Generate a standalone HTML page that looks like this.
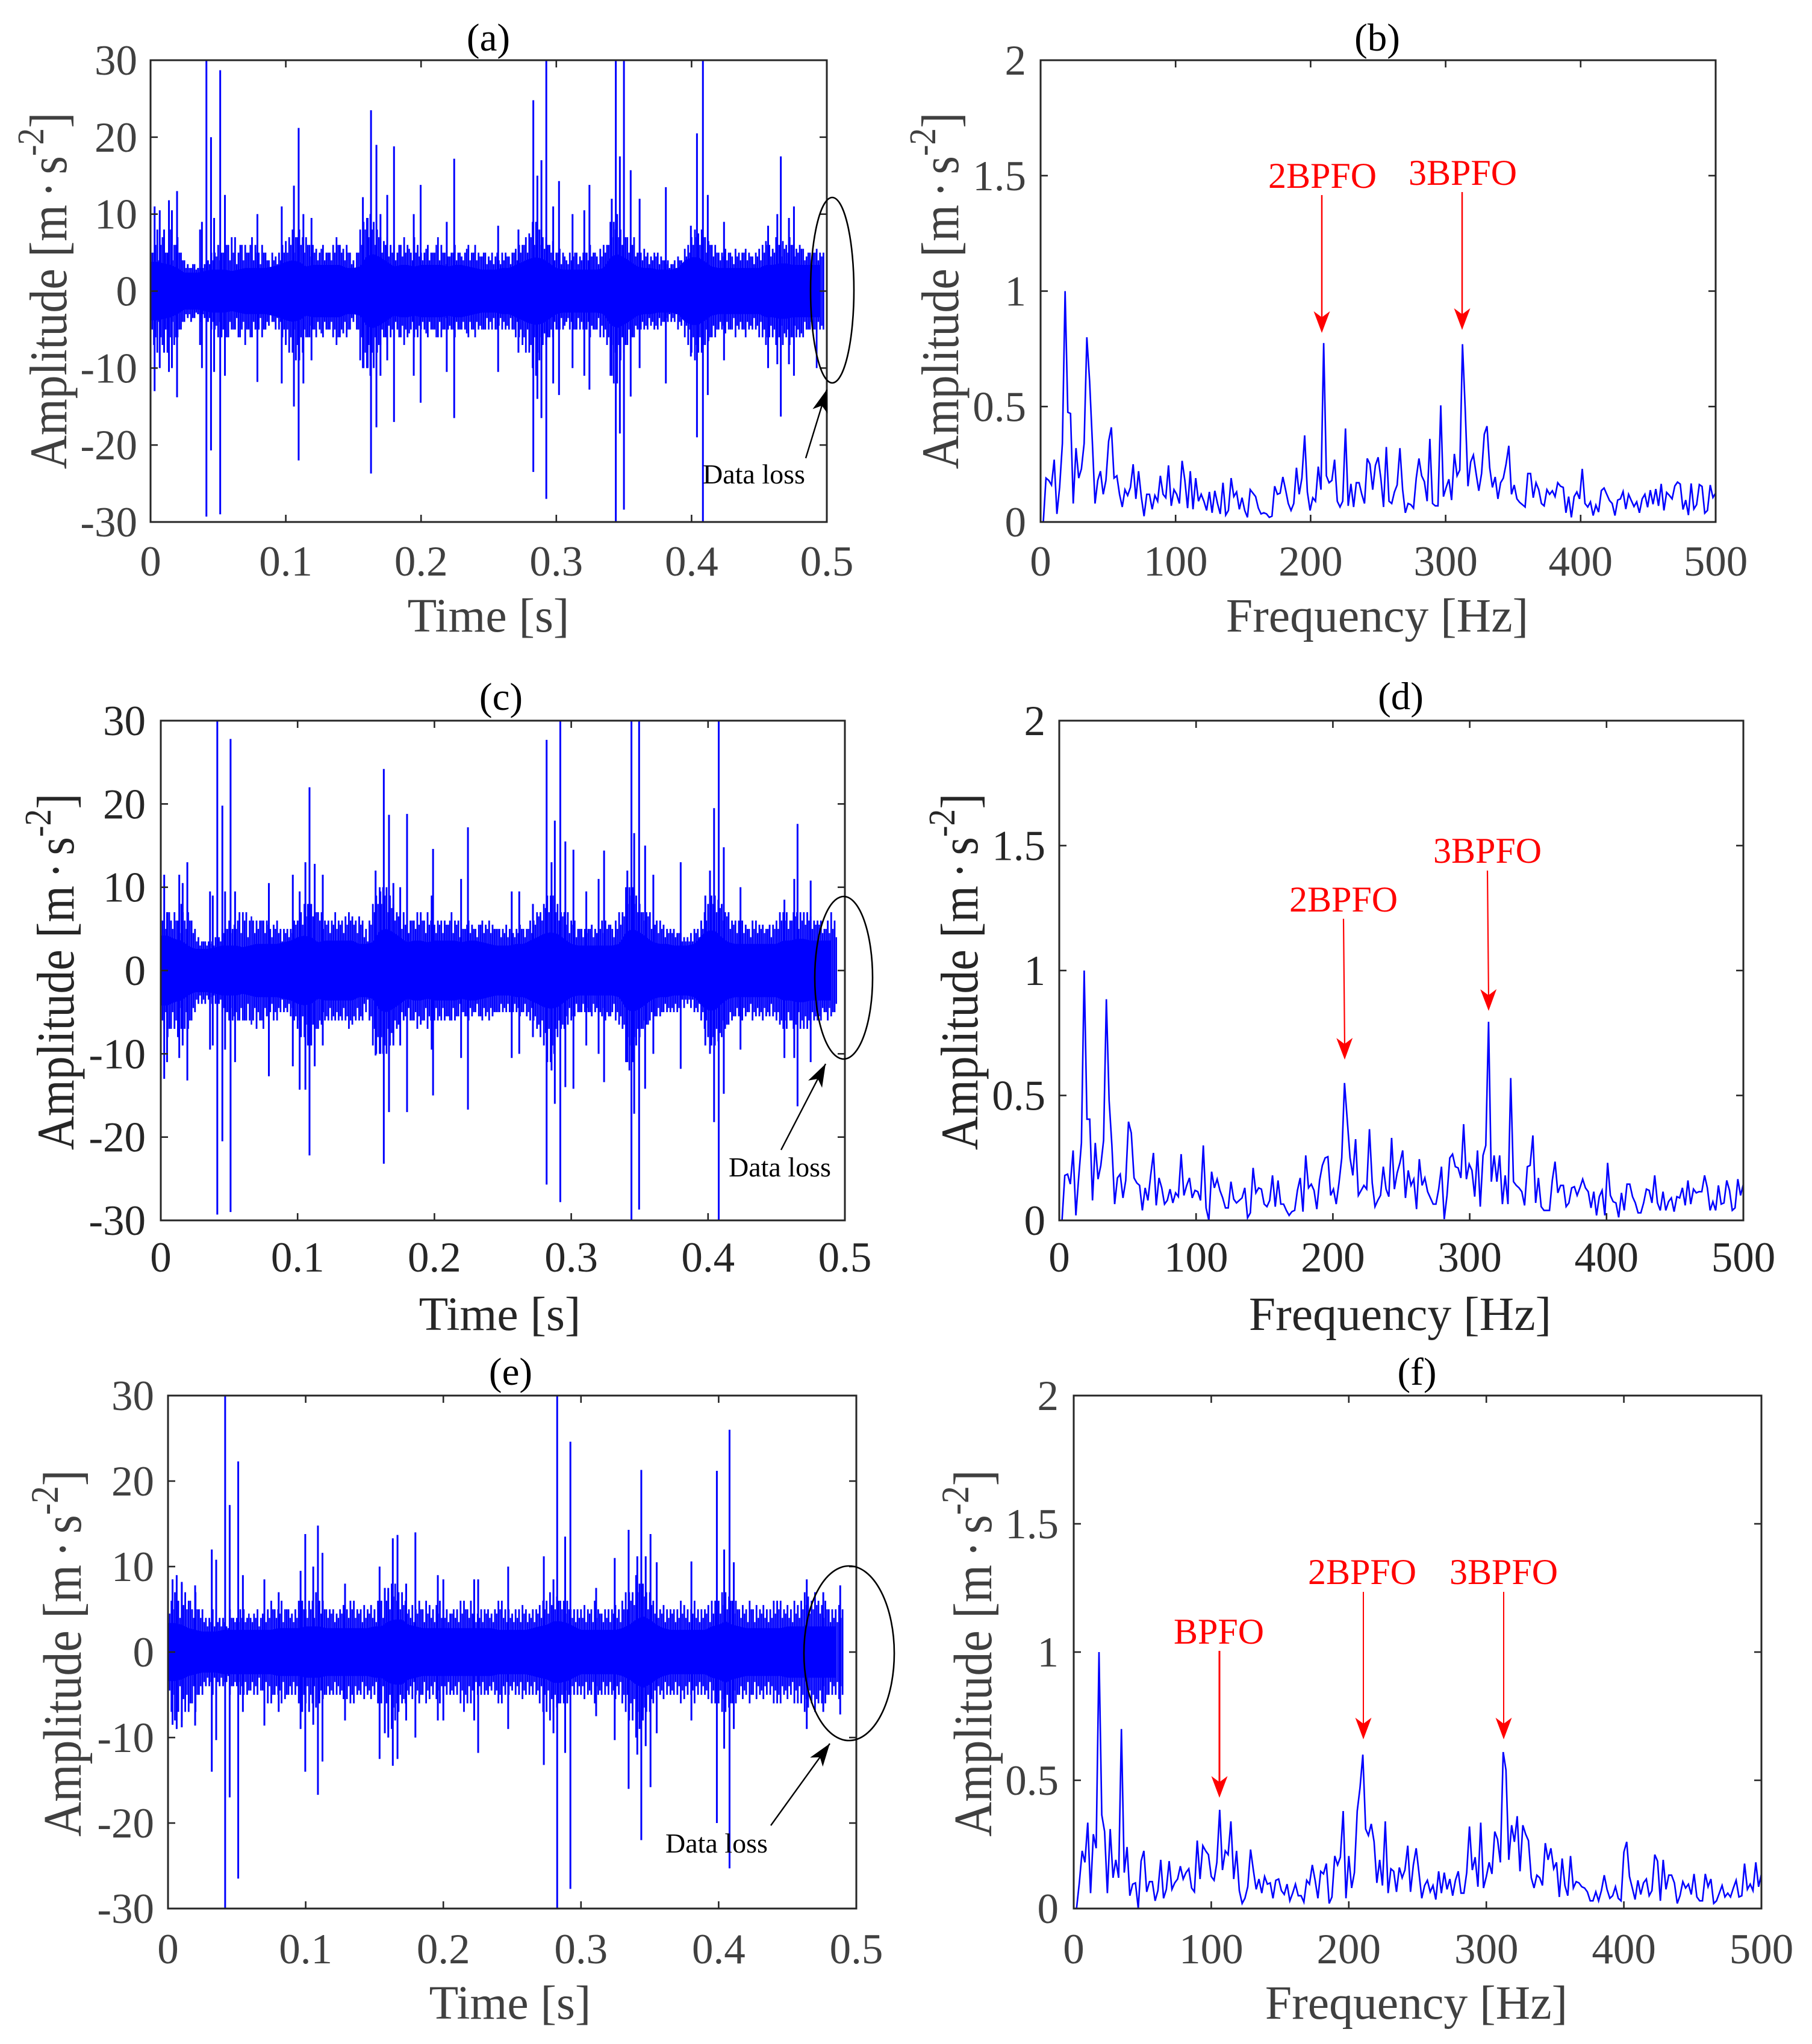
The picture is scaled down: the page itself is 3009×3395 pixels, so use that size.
<!DOCTYPE html>
<html lang="en">
<head>
<meta charset="utf-8">
<title>Vibration signals and envelope spectra</title>
<style>
html,body{margin:0;padding:0;background:#fff;}
svg{display:block;}
text{font-family:"Liberation Serif",serif;}
</style>
</head>
<body>
<svg id="figure" xmlns="http://www.w3.org/2000/svg" width="3009" height="3395" viewBox="0 0 3009 3395"></svg>
<script>
/* ---------- tick labels ---------- */
const timeTicks = [0, 0.1, 0.2, 0.3, 0.4, 0.5];
const ampTicks = [-30, -20, -10, 0, 10, 20, 30];
const freqTicks = [0, 100, 200, 300, 400, 500];
const specTicks = [0, 0.5, 1, 1.5, 2];
const freqMax = 500;
const coreStep = 0.005;
const fringeStep = 0.0025;

/* ---------- panel (a) ---------- */
const spikeTimesA = [.003,.0068,.01,.0136,.0158,.0196,.0366,.038,.0413,.0447,.047,.0515,.055,.079,.097,.106,.1095,.113,.119,.157,.1605,.163,.167,.17,.175,.18,.1946,.1997,.219,.2245,.257,.272,.283,.286,.289,.2926,.2977,.302,.312,.3207,.3245,.341,.344,.347,.35,.355,.3616,.381,.3995,.404,.4084,.412,.424,.4566,.4634,.466,.472,.4757];
const spikeHighA = [11,10.5,8,11.8,10.5,13,8,9,30,20,9.5,28.7,12.5,10,11,13.7,21.2,10,9.5,12.2,9.5,23.5,19,10,12.5,18.8,10,13.8,9,17.2,8.5,8,24.8,15,17,30,11,14.3,10,10.5,13.8,12,30,17.5,30,15.7,12,13.5,8.5,20.5,30,12.5,9,8.5,10,17.5,9.5,11];
const spikeLowA = [-13,-10,-8,-10.5,-10,-13.8,-7,-10,-29.3,-20.7,-10.5,-29,-11,-11.8,-12,-15,-22,-12,-9,-10,-10,-23.7,-17.7,-11,-9,-17,-11,-14.5,-10.5,-16.5,-10.5,-8,-23.5,-14,-16.5,-27,-12,-13.5,-10,-11,-12.8,-11,-30,-18.5,-28.4,-13.7,-10,-12,-8.5,-19,-30,-13.5,-9,-10,-9.5,-16.3,-9.5,-11];
const coreA = [3.8,3.8,3.6,3.4,3,2.4,2.4,2.4,2.6,2.8,2.8,2.8,2.6,2.8,3,3,3,3,3.2,3.4,3.8,4,3.8,3.2,3.4,3.4,3.4,3.4,3.4,3,3,3.2,4.6,4.8,4.4,3.8,3.2,3.4,3.4,3.2,3.4,3.4,3.4,3.4,3.2,3.4,3.4,3.2,3,2.8,2.8,2.8,3,3,3.4,3.8,4.2,4.4,4.2,3.6,3,2.8,2.8,2.8,2.8,2.8,2.8,3,4.4,4.8,4.4,3.8,3.2,3,3,2.8,2.8,2.8,3,4,4.4,4.4,3.8,3.2,3,3,3,3,3,3,3,3.4,3.4,3.6,3.6,3.4,3.4,3.4,3.4,3.4];
const fringeHighA = [6,5,8,6,7,5,8,6,7,5,4,3.5,3,3.5,3,3,3.5,4,5,5,
6,5,4,6,7,7,5,6,6,5,7,6,5,6,5,4,5,4.5,5,6,
6.5,7,8,7,8,7,7,6,6,5.5,5,6,5,5,6,7,6,5.5,6,5,
4,5,8,9,9.5,10,9,8,7,6.5,7,6,6,5,6,7,6,5,7,6,
5,5,6,5,5,7,6,5,4.5,5,6,5,4.5,5,6,5,6,5,4.5,5,
4.5,5,4.5,4,5,5,4.5,5,5.5,6,6,7,7.5,9,9,8,7,7,6,6.5,
5,5.5,5,4,5,4.5,5,4.5,5,5,6,5,4.5,5.5,6,6,9,9,10,8,
8,7,6,7,5,5,5.5,5,4.5,5,5,4.5,4,4,3.5,4,4.5,4,5.5,6,
7,8,7.5,8,7,6.5,6,6,5,5,5.5,5,4.5,5.5,5,5,5.5,5,4.5,5,
5.5,6,6.5,6,5.5,7,6,6.5,6,7,6,5.5,6,5.5,4.5,5,5,5.5,5,5];
const fringeLowA = [-6,-7,-8,-6,-7,-8,-6,-7,-6,-5,-4,-3.5,-4,-3.5,-3,-4,-3.5,-4,-5,-5,
-6,-6,-5,-6,-5,-5,-6,-5,-7,-5,-6,-5,-5,-6,-5,-4.5,-4,-5,-5,-6,
-7,-8,-8,-9,-9,-8,-6,-6,-5,-6,-5,-6,-5,-5,-6,-7,-6,-5.5,-6,-5,
-4,-5,-9,-10,-10,-11,-10,-8,-7,-6,-7,-6,-6,-5,-6,-7,-6,-5,-6,-6,
-5,-5,-6,-5,-5,-6,-6,-5,-5,-5,-6,-5,-5,-5,-6,-5,-6,-5,-5,-5,
-5,-5,-5,-4.5,-5,-5,-5,-5,-6,-6,-7,-8,-8,-10,-11,-9,-7,-7,-6,-6,
-5,-5,-5,-4,-5,-5,-5,-5,-5,-5,-6,-5,-5,-6,-6,-7,-11,-12,-12,-9,
-8,-7,-6,-6,-5,-5,-5,-5,-4.5,-5,-5,-4.5,-4,-4,-4,-4,-5,-4.5,-6,-7,
-8,-9,-8,-8,-7,-6.5,-6,-6,-5,-5,-5.5,-5,-5,-6,-5,-5,-6,-5,-5,-5,
-6,-6,-7,-6,-6,-7,-6,-7,-6,-7,-6,-6,-6,-6,-5,-5,-5,-10,-5,-5];
const midA = [5,6,4,7,5,6,4,6,5,4,3,3,3.5,2.8,3,3,2.8,3.5,4,4.5,
4,5,6,4,5,3.5,6,4,5,6,4,5,3.5,5,4,3,4,3.5,4,5,
5,6,5,7,6,5,6,4.5,5,4,5.5,4,5,4,5,6,5,4,5,3.5,
3,5,6,8,7,8,6,7,5,6,4.5,5,4,6,4.5,5,5.5,4,5,4.5,
4,5.5,4,5,6,4,5,3.5,4.5,5,4,5,4,5.5,4,5,4,4.5,5,3.5,
4,3.5,5,3.5,4,4.5,3.5,5,4,5,6,5,7,6,8,6,5.5,6,5,4,
5,3.5,4.5,3.5,4,5,3.5,4,5,4,4.5,5,3.5,4.5,5,6,7,8,7,6,
7,5,6,4.5,5,4,4.5,3.5,4,4.5,3.5,4,3.5,3,3.5,3,4,3.5,4.5,5,
6,7,6,7,5,6,4.5,5,4,4.5,4,5,3.5,4.5,4,5,4,4.5,3.5,4.5,
4,5,6,4.5,5,6,4.5,5.5,5,6,4.5,5,5.5,4,5,4,5,4,4.5];

/* ---------- panel (b) ---------- */
const spectrumB = [0,.19,.18,.16,.27,.035,.15,.34,1,.475,.47,.08,.32,.19,.23,.34,.80,.61,.35,.08,.18,.22,.12,.18,.35,.41,.19,.2,.12,.065,.14,.115,.15,.25,.10,.22,.11,.025,.12,.12,.055,.115,.09,.2,.12,.105,.245,.07,.14,.12,.08,.265,.18,.06,.22,.055,.19,.09,.12,.09,.05,.13,.04,.135,.08,.035,.17,.03,.05,.19,.11,.13,.055,.105,.05,.02,.14,.125,.11,.06,.035,.04,.035,.02,.025,.155,.12,.125,.195,.14,.08,.05,.08,.235,.12,.19,.375,.13,.05,.105,.09,.24,.14,.775,.2,.17,.18,.27,.09,.065,.09,.405,.07,.165,.065,.17,.17,.12,.08,.275,.25,.14,.245,.28,.19,.065,.325,
.09,.08,.13,.16,.32,.14,.04,.08,.075,.06,.19,.275,.2,.175,.09,.36,.08,.07,.07,.505,.11,.15,.185,.095,.295,.2,.225,.77,.49,.155,.26,.29,.21,.135,.21,.38,.415,.235,.15,.195,.10,.17,.19,.25,.33,.12,.16,.10,.085,.075,.065,.21,.21,.105,.17,.14,.08,.07,.14,.12,.135,.11,.17,.155,.15,.04,.11,.02,.11,.13,.10,.23,.08,.065,.087,.028,.073,.043,.136,.147,.12,.093,.08,.028,.095,.1,.132,.056,.12,.093,.067,.087,.04,.1,.12,.064,.138,.077,.143,.07,.165,.05,.128,.115,.1,.156,.173,.164,.054,.095,.03,.167,.056,.075,.162,.154,.038,.05,.16,.106,.125];

/* ---------- panel (c) ---------- */
const spikeTimesC = [.0025,.0046,.0135,.016,.0194,.036,.038,.0413,.045,.047,.051,.0543,.079,.0965,.1015,.1057,.1087,.1125,.1184,.157,.1605,.163,.1668,.17,.175,.18,.198,.199,.2195,.2245,.2565,.262,.272,.282,.2856,.288,.292,.2957,.3016,.311,.32,.324,.341,.344,.346,.3496,.354,.36,.38,.398,.4014,.4044,.4078,.4115,.4237,.4558,.463,.4654,.475];
const spikeHighC = [11.5,7,11.5,10.5,13,9.5,9,30,19.8,9.5,27.8,9.5,10.5,11.5,9.5,13,22,12.8,11.5,12,9.5,24.2,18.7,10.5,10,18.8,9,14.6,11,17.2,9.5,9.5,8,27.7,13,18,30,15.5,14.5,9.5,11,14.4,12,30,16.5,30,15,11.5,13,9,12,19.5,30,14.8,10,8.5,11,17.6,10.8];
const spikeLowC = [-13,-11,-10.5,-9,-13.2,-9.5,-9,-29.3,-20.5,-9.5,-29,-11,-12.7,-11.5,-14.3,-14.3,-22.2,-11.5,-9,-10.2,-10,-23.2,-17,-9,-9,-17,-9.5,-15,-10.5,-16.7,-10.5,-10,-8,-25.7,-12,-16,-27.8,-14,-14.2,-9,-10,-13.4,-11,-30,-17.2,-28.7,-14.2,-10,-11.8,-9,-10,-18.2,-30,-14.8,-9.5,-10.5,-10.5,-16.3,-11];
const coreC = [4.2,4.2,3.8,3.6,3,2.6,2.6,2.6,2.8,3,3,3,2.8,3,3.2,3.2,3.2,3.2,3.4,3.6,4,4.2,4,3.4,3.6,3.6,3.6,3.6,3.6,3.2,3.2,3.4,4.8,5,4.6,4,3.4,3.6,3.6,3.4,3.6,3.6,3.6,3.6,3.4,3.6,3.6,3.4,3.2,3,3,3,3.2,3.2,3.6,4,4.4,4.6,4.4,3.8,3.2,3,3,3,3,3,3,3.2,4.6,5,4.6,4,3.4,3.2,3.2,3,3,3,3.2,4.2,4.8,4.8,4,3.4,3.2,3.2,3.2,3.2,3.2,3.2,3.2,3.6,3.6,3.8,3.8,3.6,3.6,3.6,3.6];
const fringeHighC = [5,6,7,6,7,6,8,6,7,6,5,4,3.5,3.5,3.5,3.5,4,4,5,5,
6,5,5,7,7,7,6,6,6,6,6,6,5,5.5,6,5,5,5,5,6,
6,7,8,8,8,8,7,7,6,6,6,7,6,6,6.5,7,6.5,6,6.5,6,
5,6,8,9,10,10,10,9,8,7,7,7,6,6,6,7,7,6,7,6,
5.5,6,6,6,5.5,7,6,6,5,5,6,5.5,5,5.5,6,5.5,6,5.5,5,5,
5,5.5,5,4.5,5,5.5,5,5,6,6,7,7,8,9,9,9,8,7,7,7,
6,6,5,5,5,5,5.5,5,5.5,6,6,5.5,5,6,7,7,10,10,10,9,
8,7,7,7,6,6,6,5.5,5,5,5,4.5,4.5,4,4,4.5,5,5,6,7,
8,9,9,8.5,8,7,7,6,6,6,6,5.5,5,6,6,5.5,5.5,5,5.5,5.5,
6,7,7,7,6,7,7,7,7,7,6.5,6,6,6,5,6,7,6];
const fringeLowC = [-6,-7,-8,-7,-7,-8,-7,-7,-7,-6,-5,-4,-4,-4,-3.5,-4,-4,-4,-5,-5,
-6,-6,-5,-6,-6,-6,-6,-6,-7,-6,-7,-5.5,-5,-6,-6,-5,-5,-5,-5.5,-6,
-7,-8,-8,-9,-9,-8,-7,-6.5,-6,-6,-6,-6,-6,-6,-6,-7,-6.5,-6,-6,-6,
-5,-6,-9,-10,-10,-10,-10,-9,-8,-7,-7,-6,-6,-6,-6,-7,-6.5,-6,-7,-6,
-6,-6,-6,-6,-5.5,-6,-6,-5.5,-5,-5.5,-6,-5.5,-5,-5.5,-6,-5.5,-6,-5.5,-5,-5,
-5,-5,-5,-5,-5,-5.5,-5,-5.5,-6,-6,-7,-8,-9,-11,-11,-10,-8,-7,-7,-6.5,
-6,-5.5,-5,-5,-5,-5,-5.5,-5,-5.5,-5.5,-6,-5.5,-5,-6,-6.5,-7,-11,-12,-11,-9,
-8,-7,-6.5,-6,-6,-5.5,-5.5,-5,-5,-5,-5,-5,-4.5,-4.5,-4,-4.5,-5,-5,-6,-7,
-8,-9,-9,-8.5,-8,-7,-6.5,-6,-5.5,-5.5,-6,-5.5,-5,-6,-5.5,-5.5,-6,-5.5,-5.5,-5.5,
-6,-6.5,-7,-7,-6,-7,-6.5,-7,-7,-7,-6.5,-6,-6,-6,-5,-6,-5.5,-5];
const midC = [6,5,7,5,6,4.5,7,5,6,4.5,3.5,3,3.5,3,3.2,3,3.5,3.5,4.5,5,
4.5,5.5,6,4.5,6,4,6.5,4.5,5,6,4.5,5.5,4,5,4.5,3.5,4.5,4,4.5,5.5,
6,5.5,6.5,7.5,6.5,7,6,5,5.5,4.5,5.5,5,5.5,4.5,5.5,6,5.5,4.5,5.5,4,
3.5,5.5,7,8,8,9,7,7.5,6,6.5,5,5.5,4.5,6,5,5.5,6,4.5,5.5,5,
4.5,5.5,4.5,5.5,6,4.5,5.5,4,5,5.5,4.5,5,4,5.5,4.5,5,4.5,5,5,4,
4.5,4,5,4,4.5,5,4,5,4.5,5.5,6.5,6,7.5,7,9,7,6,6.5,5.5,4.5,
5.5,4,5,4,4.5,5,4,4.5,5,4.5,5,5.5,4,5,5.5,6.5,8,9,8,7,
7,6,6.5,5,5.5,4.5,5,4,4.5,4.5,4,4.5,3.5,3.5,3.5,3.5,4.5,4,5,6,
7,8,7,7.5,6,6.5,5,5.5,4.5,5,4.5,5,4,5,4.5,5,4.5,5,4,5,
5,6,6,5,6,6.5,5,6,5.5,6,5,5.5,5.5,4.5,5,4.5,5,4];

/* ---------- panel (d) ---------- */
const spectrumD = [0,.18,.185,.145,.28,.02,.17,.31,1,.405,.405,.08,.31,.165,.22,.32,.885,.48,.3,.065,.17,.185,.09,.16,.395,.35,.17,.15,.14,.04,.13,.08,.18,.27,.06,.17,.13,.065,.08,.125,.07,.11,.095,.265,.10,.14,.17,.09,.12,.115,.08,.30,.05,0,.195,.13,.165,.12,.09,.05,.05,.155,.085,.07,.08,.09,.13,.01,.03,.21,.11,.13,.125,.065,.055,.08,.18,.055,.16,.065,.065,.04,.02,.035,.04,.12,.17,.035,.26,.13,.145,.12,.045,.16,.22,.25,.255,.10,.125,.065,.15,.25,.55,.40,.25,.18,.325,.10,.12,.14,.125,.365,.15,.055,.08,.10,.215,.125,.095,.33,.125,.19,.23,.28,
.09,.2,.14,.165,.045,.245,.14,.17,.115,.09,.065,.065,.125,.215,.005,.10,.25,.265,.215,.21,.17,.385,.165,.225,.20,.095,.28,.055,.26,.30,.795,.155,.26,.155,.26,.065,.18,.065,.57,.155,.14,.13,.115,.06,.215,.22,.34,.07,.17,.055,.04,.04,.04,.16,.235,.11,.14,.14,.055,.07,.13,.135,.10,.13,.165,.13,.115,.05,.115,.02,.095,.12,.02,.23,.10,.075,.07,.012,.11,.04,.145,.145,.095,.07,.03,.03,.07,.125,.12,.07,.18,.07,.04,.115,.04,.075,.09,.035,.095,.09,.13,.06,.16,.065,.125,.11,.115,.115,.18,.13,.04,.075,.04,.14,.065,.07,.16,.12,.04,.05,.165,.10,.145];

/* ---------- panel (e) ---------- */
const spikeTimesE = [.0033,.0063,.01,.0197,.0318,.035,.0415,.0448,.051,.0544,.07,.0804,.0963,.0997,.1055,.1089,.1122,.1286,.1537,.1575,.16,.1633,.1667,.173,.1797,.196,.2,.2224,.2253,.2471,.273,.28,.2827,.2885,.2923,.311,.3245,.3346,.3409,.3438,.347,.3505,.355,.3802,.3987,.404,.4079,.411,.464,.476,.4883];
const spikeHighE = [8.5,9,8.2,7.8,12,10.8,30,17.2,22.3,9,8.5,7,9.5,13.8,10,14.8,11.6,8,10,7.5,7.5,13.3,13.7,8,14,9,8.5,8.5,8.5,10,11.2,8.5,30,13.5,24.6,7.5,11,14.3,11.2,21.3,11.2,13.8,10.5,10.6,21.2,12,26,10.5,8.5,7,7.8];
const spikeLowE = [-8.5,-9,-8.8,-8.6,-14,-10.3,-30,-17,-26.5,-7,-8.6,-7,-9,-14,-8.5,-16.7,-12.8,-8,-12.5,-9.5,-10,-13.3,-12.5,-8,-10,-8,-8,-8,-11.8,-9,-13.2,-9.5,-30,-11.8,-27.7,-7.5,-10.3,-16,-12,-22,-11,-15.8,-9.5,-8,-20,-11.3,-25.3,-9,-9,-7,-7.3];
const coreE = [3.4,3.4,3.2,2.8,2.6,2.4,2.4,2.4,2.6,2.6,2.6,2.6,2.6,2.6,2.6,2.6,2.8,2.8,2.8,2.8,3,3,3,2.8,2.8,2.8,2.8,2.8,2.8,2.8,3,3,3.6,3.8,3.8,3.2,3,2.8,2.8,2.8,2.8,2.8,2.8,2.8,2.8,2.8,2.8,2.8,2.6,2.6,2.6,2.6,2.6,2.8,3,3.2,3.6,3.6,3.4,3,2.6,2.6,2.6,2.6,2.6,2.6,2.8,3.2,3.8,4.2,3.8,3.2,2.8,2.6,2.6,2.6,2.6,2.6,2.6,3,3.2,3.6,3.2,3,2.8,2.8,2.8,2.8,2.8,2.8,3,3,3,3,3,3,3,3];
const fringeHighE = [5,6,7,6,8,7,6,5,7,5,5,4,4,5,4,4,4,3,5,4,
4,5,5,4,4,4.5,5,4,4.5,5,6,5,5,6,5,5,4.5,5,6,6,
5,6,6,7,6,6,5,5,5,4.5,5,5.5,5,6,6,5,5,5.5,5,5.5,
5,6,6,7,7,8,8,7,7,6,5,5.5,5,6,5,6,5.5,5,5.5,6,
5,5,4.5,5,5,6,6,5,6,5,4.5,5,5,5,4.5,5,6,6,5,5,
4.5,5,5,5.5,5,4.5,5,5,5.5,6,6,7,7,6.5,6,6,6,5,5,5,
5,5.5,5,5,6,5,4.5,5,5,5,5.5,5,6,7,7,7,9,8,8,7,
7,6,5,5,5.5,5,5,5,5,6,5.5,5,5,6,5,5,5,5.5,6,6,
6,7,7,6.5,6,6,5,5.5,5,6,5,5.5,5,5.5,5,5,6,6,6,5,
5.5,5,6,5.5,6,7,6.5,6,7,6,5.5,6,5,5,5,5.5,5];
const fringeLowE = [-6,-7,-8,-7,-8,-7,-7,-6,-7,-5,-5,-4,-4,-5,-4,-4,-4,-3.5,-5,-4,
-4,-5,-5,-5,-4.5,-5,-5,-4.5,-5,-6,-6,-5,-5,-6,-5.5,-5,-5,-5,-6,-7,
-6,-7,-6,-6.5,-6,-5.5,-5,-5,-5,-5,-5,-5.5,-5.5,-6,-6,-5,-5,-5.5,-5,-5.5,
-5,-6,-6,-8,-9,-9,-8,-7,-6,-6,-5,-5.5,-5,-6,-5,-6,-5.5,-5,-5.5,-6,
-5,-5,-5,-5,-5,-6,-7,-6,-6,-5,-5,-5,-5,-5,-4.5,-5,-6,-6,-5,-5,
-4.5,-5,-5,-5.5,-5,-5,-5,-5,-6,-7,-7,-8,-7,-6.5,-6,-6,-6,-5,-5,-5,
-5,-5.5,-5,-5,-6,-5,-5,-5,-5,-5,-5.5,-5,-6,-7,-8,-8,-10,-9,-8,-7,
-7,-6,-5.5,-5,-5.5,-5,-5,-5,-5,-6,-5.5,-5,-5,-6,-5,-5,-5,-5.5,-6,-6,
-6,-7,-7,-6.5,-6,-6,-5,-5.5,-5,-6,-5,-5.5,-5,-5.5,-5,-5,-6,-6,-6,-5,
-5.5,-5,-6,-6,-6,-7,-6.5,-6,-7,-6,-6,-6,-5,-5,-5,-5.5,-5];
const midE = [4.5,5,6,4,5.5,5,6,4,5,4,3.5,3,3.5,3,3.5,3,3.5,2.8,4,3.5,
3.5,4,3.5,4.5,3.5,4,3,4.5,3.5,4,5,4,4.5,3.5,5,4,3.5,4,4.5,5,
4,5,4,5.5,4.5,5,4,4.5,3.5,4,4.5,3.5,4,5,4,4.5,3.5,4,4.5,4,
3.5,5,4,6,5,6.5,6,5,5.5,4.5,4,3.5,4.5,5,3.5,4.5,4,3.5,4.5,4,
4,3.5,4.5,4,3.5,4.5,5,4,4.5,3.5,4,3.5,4.5,4,3.5,4.5,5,4,3.5,4,
3.5,4,3.5,4.5,3.5,4,3.5,4.5,4,5,4.5,5.5,5,6,5,4.5,5,4,3.5,4,
4,3.5,4.5,3.5,4,4.5,3.5,4,3.5,4.5,4,3.5,5,5,6,5.5,7,6,6.5,5,
5.5,4.5,4,4.5,3.5,4,4.5,3.5,4,4.5,4,3.5,4.5,4,3.5,4,4.5,3.5,4.5,5,
4.5,5.5,5,6,4.5,5,4,4.5,3.5,5,3.5,4,4.5,4,3.5,4,4.5,5,4,4.5,
4,3.5,4.5,4,5,5.5,4.5,5,5.5,4.5,4,5,3.5,4,3.5,4];

/* ---------- panel (f) ---------- */
const spectrumF = [0,.1,.225,.18,.335,.06,.29,.235,1,.365,.30,.06,.31,.12,.19,.12,.70,.14,.24,.05,.095,.10,0,.185,.225,.065,.105,.105,.03,.07,.19,.04,.075,.185,.075,.10,.115,.165,.115,.14,.155,.08,.065,.265,.115,.245,.225,.21,.125,.11,.18,.385,.15,.225,.21,.34,.115,.225,.07,.02,.04,.085,.23,.15,.075,.115,.06,.125,.095,.10,.04,.11,.115,.07,.055,.095,.03,.06,.095,.05,.05,.025,.11,.095,.17,.11,.04,.145,.135,.175,.02,.045,.205,.17,.2,.38,.04,.205,.08,.14,.38,.47,.6,.31,.285,.33,.26,.10,.19,.09,.34,.06,.155,.145,.065,.16,.12,.15,.245,.065,.17,.235,.14,.04,.09,.11,.065,.09,.035,.145,.06,.14,.075,.115,.05,.11,.145,.06,.06,.14,.32,.15,.20,.085,.335,.08,.125,.18,.135,.30,.27,.18,.61,.54,.19,.325,.26,.36,.145,.325,.29,.265,.12,.08,.13,.12,.09,.255,.19,.235,.155,.18,.045,.195,.09,.05,.205,.08,.105,.1,.085,.08,.065,.03,.03,.065,.03,.07,.13,.075,.04,.05,.085,.04,.03,.22,.26,.125,.08,.035,.11,.055,.10,.115,.05,.07,.21,.185,.03,.19,.075,.13,.13,.10,.02,.05,.105,.08,.095,.055,.135,.045,.03,.03,.135,.085,.115,.02,.03,.06,.09,.045,.06,.045,.08,.11,.045,.05,.175,.075,.095,.07,.18,.085,.135];

/* ---------- layout ---------- */
const timePanels = [
  {id:'a', l:250, r:1373, t:100, b:867, ink:'#404040', core:coreA, hi:fringeHighA, lo:fringeLowA, mid:midA, st:spikeTimesA, sh:spikeHighA, sl:spikeLowA,
   titleX:811, titleY:84, xlabX:811, xlabY:1049, tickY:956, tickGap:22, ylabX:110, ylabY:483, ylabFs:88, ylabScale:.885,
   ell:[1382,482,36,154], arrow:[1338,761,1373,647], loss:[1167,803]},
  {id:'c', l:267, r:1403, t:1197, b:2027, ink:'#262626', core:coreC, hi:fringeHighC, lo:fringeLowC, mid:midC, st:spikeTimesC, sh:spikeHighC, sl:spikeLowC,
   titleX:832, titleY:1179, xlabX:830, xlabY:2209, tickY:2112, tickGap:25, ylabX:122, ylabY:1614, ylabFs:88, ylabScale:.885,
   ell:[1401,1624,48,135], arrow:[1297,1910,1371,1767], loss:[1210,1954]},
  {id:'e', l:279, r:1422, t:2318, b:3170, ink:'#404040', core:coreE, hi:fringeHighE, lo:fringeLowE, mid:midE, st:spikeTimesE, sh:spikeHighE, sl:spikeLowE,
   titleX:848, titleY:2300, xlabX:847, xlabY:3353, tickY:3261, tickGap:23, ylabX:134, ylabY:2746, ylabFs:90, ylabScale:.89,
   ell:[1410,2746,75,145], arrow:[1280,3032,1378,2896], loss:[1105,3077]}
];
const freqPanels = [
  {id:'b', l:1728, r:2849, t:100, b:867, ink:'#404040', spec:spectrumB,
   titleX:2287, titleY:84, xlabX:2287, xlabY:1049, tickY:956, tickGap:24, ylabX:1591, ylabY:483, ylabFs:88, ylabScale:.885,
   notes:[{txt:'2BPFO',cx:2196,by:312,x1:2195,y1:324,x2:2195,y2:553,w:2.5},{txt:'3BPFO',cx:2429,by:307,x1:2428,y1:319,x2:2428,y2:548,w:2.5}]},
  {id:'d', l:1759, r:2895, t:1197, b:2027, ink:'#262626', spec:spectrumD,
   titleX:2326, titleY:1178, xlabX:2325, xlabY:2209, tickY:2112, tickGap:23, ylabX:1623, ylabY:1614, ylabFs:88, ylabScale:.885,
   notes:[{txt:'2BPFO',cx:2231,by:1514,x1:2231,y1:1526,x2:2233,y2:1760,w:2.2},{txt:'3BPFO',cx:2470,by:1433,x1:2470,y1:1446,x2:2472,y2:1679,w:2.2}]},
  {id:'f', l:1783, r:2925, t:2318, b:3170, ink:'#404040', spec:spectrumF,
   titleX:2353, titleY:2300, xlabX:2352, xlabY:3353, tickY:3261, tickGap:25, ylabX:1646, ylabY:2746, ylabFs:90, ylabScale:.89,
   notes:[{txt:'BPFO',cx:2024,by:2730,x1:2025,y1:2742,x2:2025,y2:2986,w:3},{txt:'2BPFO',cx:2262,by:2631,x1:2264,y1:2644,x2:2264,y2:2889,w:2},{txt:'3BPFO',cx:2497,by:2631,x1:2497,y1:2644,x2:2497,y2:2889,w:2}]}
];

const NS = 'http://www.w3.org/2000/svg';
const root = document.getElementById('figure');
const BLUE = '#0000ff';

function mk(parent, tag, attrs, text) {
  const el = document.createElementNS(NS, tag);
  for (const k in attrs) el.setAttribute(k, attrs[k]);
  if (text !== undefined) el.textContent = text;
  parent.appendChild(el);
  return el;
}

function drawAxes(g, p, xT, yT, sx, sy) {
  xT.forEach(function (v) {
    const x = sx(v);
    const top = mk(g, 'line', {x1:x, x2:x, y1:p.t, y2:p.t + 12, stroke:'#262626', 'stroke-width':2.6});
    
    
    const bot = mk(g, 'line', {x1:x, x2:x, y1:p.b, y2:p.b - 12, stroke:'#262626', 'stroke-width':2.6});
    
    
    const lab = mk(g, 'text', {x:x, y:p.tickY, 'text-anchor':'middle', 'font-size':71, fill:p.ink}, String(v));
    
    
  });
  yT.forEach(function (v) {
    const y = sy(v);
    const left = mk(g, 'line', {x1:p.l, x2:p.l + 12, y1:y, y2:y, stroke:'#262626', 'stroke-width':2.6});
    
    
    const right = mk(g, 'line', {x1:p.r, x2:p.r - 12, y1:y, y2:y, stroke:'#262626', 'stroke-width':2.6});
    
    
    const lab = mk(g, 'text', {x:p.l - p.tickGap, y:y + 24, 'text-anchor':'end', 'font-size':71, fill:p.ink}, String(v));
    
    
  });
  const box = mk(g, 'rect', {x:p.l, y:p.t, width:p.r - p.l, height:p.b - p.t, fill:'none', stroke:'#262626', 'stroke-width':3});
  
  
}

function drawLabels(g, p, xTitle, xFs) {
  const title = mk(g, 'text', {x:p.titleX, y:p.titleY, 'text-anchor':'middle', 'font-size':65, fill:'#000'}, '(' + p.id + ')');
  
  
  const xl = mk(g, 'text', {x:p.xlabX, y:p.xlabY, 'text-anchor':'middle', 'font-size':xFs, fill:p.ink}, xTitle);
  
  
  const yl = mk(g, 'text', {x:0, y:0, 'text-anchor':'middle', 'font-size':p.ylabFs, fill:p.ink,
    transform:'translate(' + p.ylabX + ' ' + p.ylabY + ') rotate(-90) scale(' + p.ylabScale + ' 1)'});
  
  
  mk(yl, 'tspan', {}, 'Amplitude [m');
  mk(yl, 'tspan', {dx:14}, '\u00B7');
  mk(yl, 'tspan', {dx:14}, 's');
  mk(yl, 'tspan', {dy:-38, 'font-size':Math.round(p.ylabFs * 0.72)}, '-2');
  mk(yl, 'tspan', {dy:38}, ']');
}

function clipFor(g, p) {
  const cid = 'clip-' + p.id;
  const c = mk(g, 'clipPath', {id:cid});
  mk(c, 'rect', {x:p.l, y:p.t, width:p.r - p.l, height:p.b - p.t});
  return 'url(#' + cid + ')';
}

function drawArrowHead(g, x1, y1, x2, y2, len, half, notch, fill) {
  const d = Math.hypot(x2 - x1, y2 - y1), ux = (x2 - x1) / d, uy = (y2 - y1) / d;
  const pts = [
    [x2, y2],
    [x2 - ux * len - uy * half, y2 - uy * len + ux * half],
    [x2 - ux * notch, y2 - uy * notch],
    [x2 - ux * len + uy * half, y2 - uy * len - ux * half]
  ].map(function (q) { return q[0].toFixed(1) + ',' + q[1].toFixed(1); }).join(' ');
  return mk(g, 'polygon', {points:pts, fill:fill});
}

timePanels.forEach(function (p) {
  const g = mk(root, 'g', {});
  
  
  const sx = function (v) { return p.l + (v / 0.5) * (p.r - p.l); };
  const sy = function (v) { return p.b - ((v + 30) / 60) * (p.b - p.t); };
  const clip = clipFor(g, p);

  const marks = mk(g, 'g', {'clip-path':clip});
  
  

  const upper = p.core.map(function (v, i) { return sx(i * coreStep).toFixed(1) + ',' + sy(v).toFixed(1); });
  const lower = p.core.map(function (v, i) { return sx(i * coreStep).toFixed(1) + ',' + sy(-v).toFixed(1); }).reverse();
  const area = mk(marks, 'polygon', {points:upper.concat(lower).join(' '), fill:BLUE});
  
  

  p.mid.forEach(function (v, i) {
    const t = (i + 0.5) * fringeStep;
    const bar = mk(marks, 'line', {x1:sx(t), x2:sx(t), y1:sy(v), y2:sy(-v), stroke:BLUE, 'stroke-width':2.4});
    
    
  });
  p.hi.forEach(function (v, i) {
    const t = i * fringeStep;
    const bar = mk(marks, 'line', {x1:sx(t), x2:sx(t), y1:sy(v), y2:sy(p.lo[i]), stroke:BLUE, 'stroke-width':2.8});
    
    
  });
  p.st.forEach(function (t, i) {
    const bar = mk(marks, 'line', {x1:sx(t), x2:sx(t), y1:sy(p.sh[i]), y2:sy(p.sl[i]), stroke:BLUE, 'stroke-width':3});
    
    
  });

  drawAxes(g, p, timeTicks, ampTicks, sx, sy);
  drawLabels(g, p, 'Time [s]', 79.5);

  const e = mk(g, 'ellipse', {cx:p.ell[0], cy:p.ell[1], rx:p.ell[2], ry:p.ell[3], fill:'none', stroke:'#000', 'stroke-width':2.6});
  
  
  const ln = mk(g, 'line', {x1:p.arrow[0], y1:p.arrow[1], x2:p.arrow[2], y2:p.arrow[3], stroke:'#000', 'stroke-width':2.4});
  
  
  const hd = drawArrowHead(g, p.arrow[0], p.arrow[1], p.arrow[2], p.arrow[3], 38, 13, 28, '#000');
  
  
  const lt = mk(g, 'text', {x:p.loss[0], y:p.loss[1], 'font-size':46, fill:'#000'}, 'Data loss');
  
  
});

freqPanels.forEach(function (p) {
  const g = mk(root, 'g', {});
  
  
  const sx = function (v) { return p.l + (v / freqMax) * (p.r - p.l); };
  const sy = function (v) { return p.b - (v / 2) * (p.b - p.t); };
  const clip = clipFor(g, p);

  const pts = p.spec.map(function (v, i) {
    const f = (i + 1) * freqMax / p.spec.length;
    return sx(f).toFixed(1) + ',' + sy(v).toFixed(1);
  }).join(' ');
  const line = mk(g, 'polyline', {points:pts, fill:'none', stroke:BLUE, 'stroke-width':2.6, 'stroke-linejoin':'miter', 'clip-path':clip});
  
  

  drawAxes(g, p, freqTicks, specTicks, sx, sy);
  drawLabels(g, p, 'Frequency [Hz]', 79.7);

  p.notes.forEach(function (n) {
    const tx = mk(g, 'text', {x:n.cx, y:n.by, 'text-anchor':'middle', 'font-size':60, fill:'#ff0000'}, n.txt);
    
    
    const shaft = mk(g, 'line', {x1:n.x1, y1:n.y1, x2:n.x2, y2:n.y2 - 20, stroke:'#ff0000', 'stroke-width':n.w});
    
    
    const head = drawArrowHead(g, n.x1, n.y1, n.x2, n.y2, 36, 13.5, 26, '#ff0000');
    
    
  });
});
</script>
</body>
</html>
